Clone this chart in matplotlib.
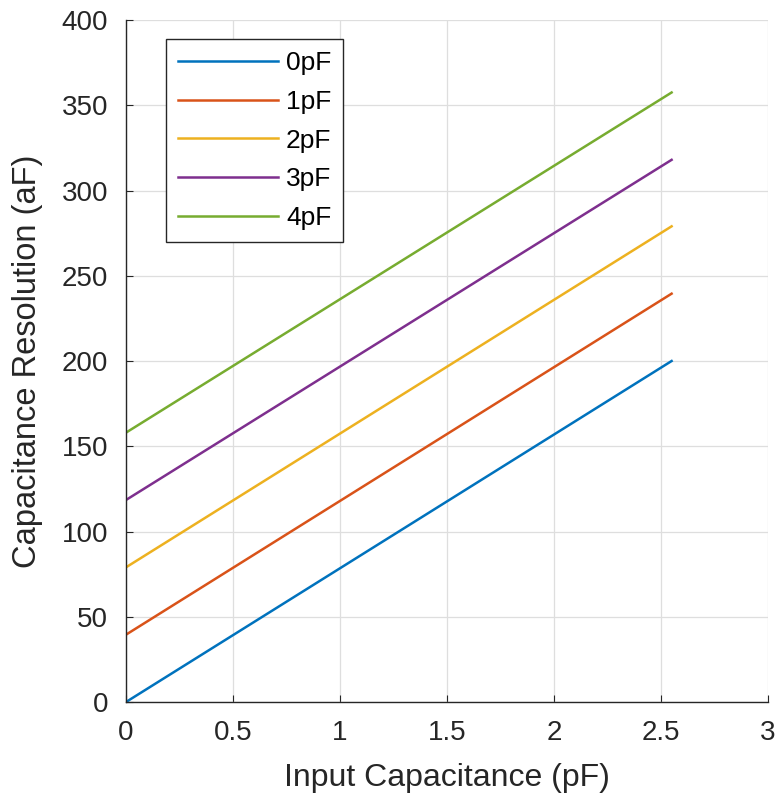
import matplotlib.pyplot as plt
import numpy as np

# данные: входная ёмкость (pF) и разрешение (aF) для разных паразитных ёмкостей
x_pf = [0.0, 2.55]
labels = ['0pF', '1pF', '2pF', '3pF', '4pF']
y_start = [0.0, 39.5, 79.0, 118.5, 158.0]
y_end = [200.0, 239.5, 279.0, 318.0, 357.5]
colors = ['#0072BD', '#D95319', '#EDB120', '#7E2F8E', '#77AC30']

plt.rcParams['font.family'] = ['Liberation Sans', 'DejaVu Sans']

fig = plt.figure(figsize=(7.78, 8.01), dpi=100)
ax = fig.add_axes([0.162, 0.1236, 0.825, 0.8514])

for lab, y0, y1, c in zip(labels, y_start, y_end, colors):
    ax.plot(x_pf, [y0, y1], color=c, lw=1.8, label=lab)

ax.set_xlim(0, 3)
ax.set_ylim(0, 400)
ax.set_xticks(np.arange(0, 3.01, 0.5))
ax.set_xticklabels(['0', '0.5', '1', '1.5', '2', '2.5', '3'])
ax.set_yticks(np.arange(0, 401, 50))

ax.grid(True, color='#dedede', lw=0.9)
ax.set_axisbelow(True)
for s in ['top', 'right']:
    ax.spines[s].set_visible(False)
for s in ['left', 'bottom']:
    ax.spines[s].set_color('#262626')
    ax.spines[s].set_linewidth(1.0)
ax.tick_params(direction='in', length=5, colors='#262626', labelsize=20, pad=13)

ax.set_xlabel('Input Capacitance (pF)', fontsize=23, color='#262626')
ax.set_ylabel('Capacitance Resolution (aF)', fontsize=23.5, color='#262626')
ax.xaxis.set_label_coords(0.5, -0.09)
ax.yaxis.set_label_coords(-0.13, 0.5)

leg = ax.legend(loc='upper left', bbox_to_anchor=(0.062, 0.972), fontsize=19,
                handlelength=3.8, handletextpad=0.3, labelspacing=0.56,
                borderpad=0.45, borderaxespad=0, fancybox=False, framealpha=1)
leg.get_frame().set_edgecolor('#262626')
leg.get_frame().set_linewidth(1.0)

fig.savefig('out.png', dpi=100)
